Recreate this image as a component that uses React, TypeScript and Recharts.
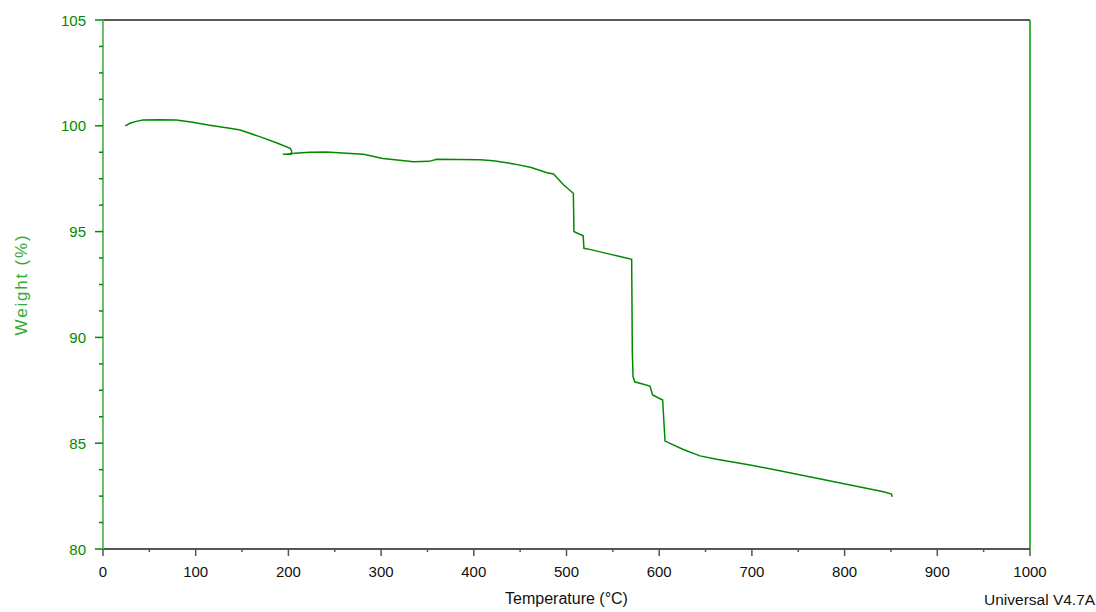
import React from 'react';
import { LineChart, Line, XAxis, YAxis, ReferenceLine } from 'recharts';

// TGA trace: temperature (°C) and residual weight (%)
const temperatures = [
  24, 29, 36, 43, 60, 79, 95, 115, 135, 148, 169, 187, 202, 203.5, 203, 194, 197, 207,
  223, 241, 263, 281, 302, 320, 335, 352, 360, 407, 421, 443, 461, 479, 486, 497, 507.4,
  508, 509, 518, 518.8, 525, 543, 561, 570.3, 571, 571.8, 573.6, 590, 592.9, 603.7,
  606.3, 626, 644, 662, 698, 734, 770, 806, 842, 850.6, 851.3,
];
const weights = [
  100.0, 100.12, 100.21, 100.27, 100.28, 100.27, 100.18, 100.03, 99.9, 99.8, 99.49, 99.2, 98.94, 98.8, 98.66, 98.65, 98.66, 98.7,
  98.75, 98.76, 98.7, 98.65, 98.46, 98.37, 98.3, 98.32, 98.42, 98.4, 98.35, 98.2, 98.04, 97.78, 97.72, 97.2, 96.81,
  95.0, 94.98, 94.8, 94.21, 94.16, 93.97, 93.79, 93.69, 89.3, 88.14, 87.9, 87.7, 87.28, 87.04,
  85.1, 84.7, 84.4, 84.24, 83.97, 83.66, 83.34, 83.02, 82.71, 82.6, 82.47,
];

const xTicks = [0, 50, 100, 150, 200, 250, 300, 350, 400, 450, 500, 550, 600, 650, 700, 750, 800, 850, 900, 950, 1000];
const yTicks = [80, 81.25, 82.5, 83.75, 85, 86.25, 87.5, 88.75, 90, 91.25, 92.5, 93.75, 95, 96.25, 97.5, 98.75, 100, 101.25, 102.5, 103.75, 105];

const xTitle = 'Temperature (°C)';
const yTitle = 'Weight (%)';
const footer = 'Universal V4.7A';

const data = temperatures.map((t, i) => ({ t, w: weights[i] }));

const FONT = '"Liberation Sans", Arial, sans-serif';
const GREEN = '#008a00';

const XTick = (props: any) => {
  const { x, y, payload } = props;
  const major = payload.value % 100 === 0;
  return (
    <g>
      <line x1={x} x2={x} y1={y} y2={y + (major ? 7 : 3)} stroke="#555" strokeWidth={1.5} />
      {major && (
        <text x={x} y={y + 28} textAnchor="middle" fontSize={15} fontFamily={FONT} fill="#111">
          {payload.value}
        </text>
      )}
    </g>
  );
};

const YTick = (props: any) => {
  const { x, y, payload } = props;
  const major = payload.value % 5 === 0;
  return (
    <g>
      <line x1={x - (major ? 8 : 4)} x2={x} y1={y} y2={y} stroke={GREEN} strokeWidth={1.5} />
      {major && (
        <text x={x - 17} y={y + 5.5} textAnchor="end" fontSize={15} fontFamily={FONT} fill={GREEN}>
          {payload.value}
        </text>
      )}
    </g>
  );
};

const XTitle = (props: any) => {
  const vb = props.viewBox;
  return (
    <g>
      <text x={vb.x + vb.width / 2} y={vb.y + 55} textAnchor="middle" fontSize={16} fontFamily={FONT} fill="#111">
        {xTitle}
      </text>
      <text x={vb.x + vb.width - 46} y={vb.y + 56} textAnchor="start" fontSize={15.5} fontFamily={FONT} fill="#111">
        {footer}
      </text>
    </g>
  );
};

const YTitle = (props: any) => {
  const vb = props.viewBox;
  const cx = vb.x + 27;
  const cy = vb.y + vb.height / 2;
  return (
    <text
      transform={`translate(${cx}, ${cy}) rotate(-90)`}
      textAnchor="middle"
      fontSize={17}
      fontFamily={FONT}
      letterSpacing={1.8}
      fill="#33aa33"
    >
      {yTitle}
    </text>
  );
};

export default function App() {
  return (
    <div style={{ position: 'absolute', left: 0, top: 0, width: 1096, height: 612, background: '#fff' }}>
      <LineChart width={1096} height={612} data={data} margin={{ top: 20, right: 66, left: 0, bottom: 0 }}>
        <XAxis
          dataKey="t"
          type="number"
          domain={[0, 1000]}
          ticks={xTicks}
          interval={0}
          height={63}
          tickSize={0}
          tickMargin={0}
          tickLine={false}
          tick={<XTick />}
          axisLine={{ stroke: '#555', strokeWidth: 2 }}
          label={{ content: <XTitle /> }}
        />
        <YAxis
          type="number"
          domain={[80, 105]}
          ticks={yTicks}
          interval={0}
          width={103}
          tickSize={0}
          tickMargin={0}
          tickLine={false}
          tick={<YTick />}
          axisLine={{ stroke: '#6cc06c', strokeWidth: 2 }}
          label={{ content: <YTitle /> }}
        />
        <ReferenceLine y={105} stroke="#222" strokeWidth={1.5} />
        <ReferenceLine x={1000} stroke="#009a00" strokeWidth={1.5} />
        <Line
          type="linear"
          dataKey="w"
          stroke={GREEN}
          strokeWidth={1.5}
          dot={false}
          isAnimationActive={false}
        />
      </LineChart>
    </div>
  );
}
